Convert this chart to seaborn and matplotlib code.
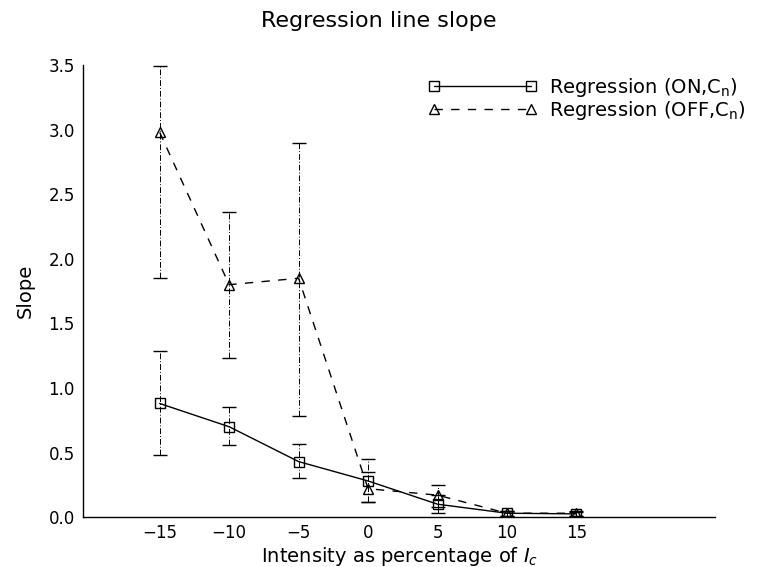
import numpy as np
import pandas as pd
import matplotlib
matplotlib.use("Agg")
import matplotlib.pyplot as plt
import seaborn as sns

intensity = [-15, -10, -5, 0, 5, 10, 15]
on_slope = [0.88, 0.70, 0.43, 0.28, 0.10, 0.03, 0.025]
on_low = [0.48, 0.56, 0.30, 0.12, 0.03, 0.01, 0.01]
on_high = [1.29, 0.85, 0.57, 0.45, 0.17, 0.05, 0.04]
off_slope = [2.98, 1.80, 1.85, 0.22, 0.17, 0.03, 0.03]
off_low = [1.85, 1.23, 0.78, 0.12, 0.08, 0.01, 0.01]
off_high = [3.49, 2.36, 2.90, 0.35, 0.25, 0.05, 0.05]
xticks = [-15, -10, -5, 0, 5, 10, 15]
yticks = [0.0, 0.5, 1.0, 1.5, 2.0, 2.5, 3.0, 3.5]

sns.set_style("white")
plt.rcParams['font.family'] = ['DejaVu Sans']
plt.rcParams['text.color'] = 'black'
plt.rcParams['axes.labelcolor'] = 'black'
plt.rcParams['xtick.color'] = 'black'
plt.rcParams['ytick.color'] = 'black'

df = pd.DataFrame({
    "x": intensity * 2,
    "y": on_slope + off_slope,
    "series": ["Regression (ON,C$_{\\rm n}$)"] * 7 + ["Regression (OFF,C$_{\\rm n}$)"] * 7,
})

fig = plt.figure(figsize=(7.57, 5.67), dpi=100)
ax = fig.add_axes([0.110, 0.088, 0.835, 0.797])

sns.lineplot(data=df, x="x", y="y", hue="series", style="series",
             palette=["black", "black"], markers=["s", "^"],
             dashes=[(None, None), (6, 6)], markersize=7,
             markerfacecolor="none", markeredgecolor="black", markeredgewidth=1.0,
             linewidth=1.0, ax=ax, legend=True)

for ys, lo, hi in [(on_slope, on_low, on_high), (off_slope, off_low, off_high)]:
    ys = np.array(ys); lo = np.array(lo); hi = np.array(hi)
    eb = ax.errorbar(intensity, ys, yerr=[ys - lo, hi - ys], fmt="none",
                     ecolor="black", elinewidth=0.7, capsize=5, capthick=1.0)
    eb[2][0].set_linestyle((0, (6, 2, 1, 2)))

ax.set_xlim(-20.5, 25)
ax.set_ylim(0, 3.5)
ax.set_xticks(xticks)
ax.set_yticks(yticks)
ax.set_yticklabels([f"{v:.1f}" for v in yticks])
ax.tick_params(axis="y", direction="in", length=5, labelsize=12, width=0.8, pad=6)
ax.tick_params(axis="x", length=0, labelsize=12, pad=5)
for s in ["top", "right"]:
    ax.spines[s].set_visible(False)
for s in ["left", "bottom"]:
    ax.spines[s].set_color("black")
    ax.spines[s].set_linewidth(1.0)

ax.set_xlabel("Intensity as percentage of $I_c$", fontsize=14, labelpad=2)
ax.set_ylabel("Slope", fontsize=14, labelpad=10)
fig.suptitle("Regression line slope", fontsize=16, y=0.98)

leg = ax.legend(loc="upper right", bbox_to_anchor=(1.075, 1.015), frameon=False,
                fontsize=14, handlelength=5.6, handletextpad=0.6,
                labelspacing=0.0, numpoints=2, title=None)

fig.savefig("out.png", dpi=100)
